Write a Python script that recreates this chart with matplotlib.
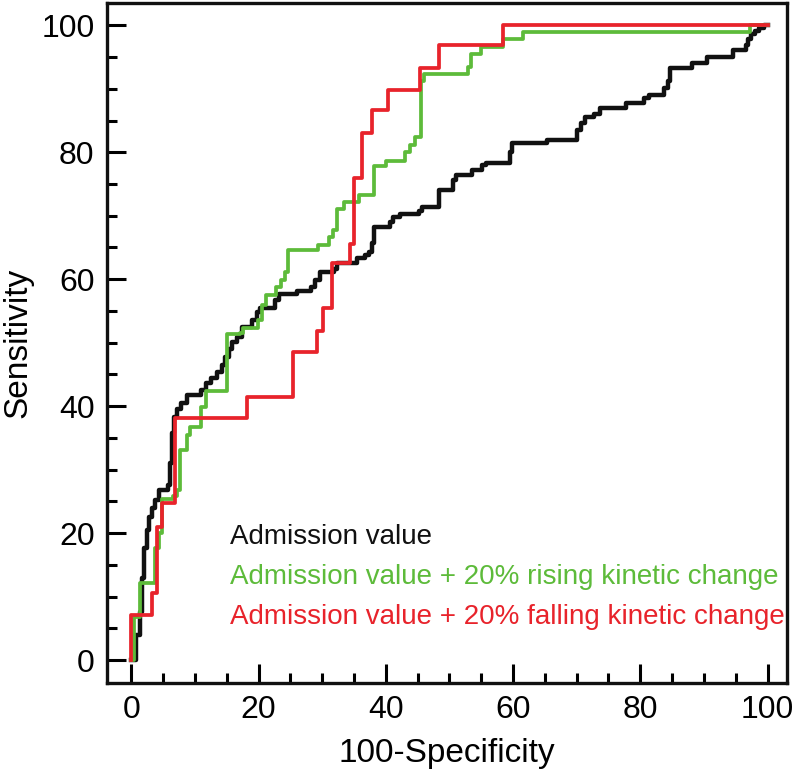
import matplotlib
matplotlib.use("Agg")
import matplotlib.pyplot as plt
from matplotlib.ticker import MultipleLocator

# ---- data (step points: x where the jump occurs, y after the jump) ----
black_x = [0, 0.8, 1.3, 1.7, 2.0, 2.5, 2.8, 3.3, 3.8, 4.4, 5.8, 6.1, 6.4, 6.7, 7.2, 7.8, 8.7,
           11.0, 11.8, 12.6, 13.5, 14.2, 14.8, 15.4, 15.9, 16.6, 17.4, 18.9, 19.7, 20.3, 22.6,
           23.2, 26.0, 28.2, 28.9, 29.7, 31.9, 32.4, 35.5, 36.8, 37.4, 37.8, 38.2, 40.6, 41.2,
           42.2, 45.3, 45.7, 48.3, 50.5, 51.0, 53.6, 55.2, 55.7, 59.5, 59.9, 65.4, 70.1, 70.7,
           71.3, 72.8, 73.6, 77.7, 80.6, 81.3, 83.7, 84.3, 84.6, 88.1, 90.5, 94.5, 96.6, 97.0,
           97.4, 98.0, 98.6, 99.4, 100]
black_y = [0, 4.0, 7.5, 13.0, 17.6, 20.5, 22.6, 23.9, 25.2, 26.8, 27.6, 31.0, 35.7, 38.3, 39.6,
           40.5, 41.7, 42.6, 43.6, 44.5, 45.4, 46.5, 47.8, 49.0, 50.1, 50.9, 52.5, 53.5, 54.8,
           55.4, 56.7, 57.7, 58.1, 58.8, 59.8, 61.1, 61.6, 62.5, 63.3, 63.8, 64.3, 65.7, 68.3,
           69.0, 69.8, 70.3, 70.8, 71.4, 74.0, 75.6, 76.4, 77.2, 78.0, 78.3, 80.0, 81.4, 81.9,
           83.5, 84.6, 85.6, 86.1, 86.9, 87.7, 88.5, 89.0, 90.1, 91.3, 93.2, 94.1, 95.0, 96.1,
           96.9, 97.8, 98.7, 99.1, 99.5, 100, 100]

green_x = [0, 0.5, 1.4, 3.8, 4.4, 4.8, 6.5, 7.2, 7.7, 8.8, 9.2, 10.9, 11.7, 15.0, 17.1, 17.5,
           19.9, 20.5, 21.1, 22.7, 23.5, 24.1, 24.6, 29.3, 31.1, 31.7, 32.3, 33.4, 35.8, 38.2,
           40.1, 43.0, 43.8, 44.6, 45.5, 46.0, 53.0, 53.4, 54.9, 58.4, 61.5, 97.3, 100]
green_y = [0, 6.8, 12.1, 17.6, 20.0, 25.3, 25.9, 26.8, 33.1, 35.4, 36.7, 39.9, 42.4, 51.3,
           51.6, 52.3, 53.5, 56.0, 57.5, 58.8, 59.8, 61.1, 64.6, 65.4, 66.7, 67.7, 71.1, 72.2,
           73.2, 77.8, 78.7, 80.1, 81.1, 82.4, 91.3, 92.4, 93.4, 95.5, 96.6, 97.9, 98.9, 100, 100]

red_x = [0, 0, 3.2, 4.1, 4.8, 6.9, 18.2, 25.5, 29.2, 30.2, 31.6, 34.4, 35.0, 36.2, 37.8, 40.4,
         45.4, 48.3, 58.5, 100]
red_y = [0, 7.1, 10.5, 21.0, 24.7, 38.1, 41.5, 48.6, 51.9, 55.4, 62.5, 65.6, 75.9, 83.0, 86.6,
         89.8, 93.2, 96.9, 100, 100]

series_labels = ["Admission value",
                 "Admission value + 20% rising kinetic change",
                 "Admission value + 20% falling kinetic change"]
colors = ["#111111", "#5dbb3a", "#e8232b"]
ticks = [0, 20, 40, 60, 80, 100]

font = "Liberation Sans"

fig = plt.figure(figsize=(7.93, 7.76), dpi=100)
ax = fig.add_axes([0.135, 0.12, 0.857, 0.876])

ax.plot(black_x, black_y, drawstyle="steps-post", color=colors[0], lw=3.2, zorder=3)
ax.plot(green_x, green_y, drawstyle="steps-post", color=colors[1], lw=2.7, zorder=4)
ax.plot(red_x, red_y, drawstyle="steps-post", color=colors[2], lw=2.7, zorder=5)

ax.set_xlim(-3.8, 103)
ax.set_ylim(-3.6, 103.5)
ax.set_xticks(ticks)
ax.set_yticks(ticks)
ax.xaxis.set_minor_locator(MultipleLocator(5))
ax.yaxis.set_minor_locator(MultipleLocator(5))
ax.tick_params(which="major", direction="in", length=14, width=2.2, pad=9,
               labelsize=23)
ax.tick_params(which="minor", direction="in", length=7, width=2.2)
for lab in ax.get_xticklabels() + ax.get_yticklabels():
    lab.set_family(font)
for s in ax.spines.values():
    s.set_linewidth(2.4)
    s.set_color("#111111")

ax.set_xlabel("100-Specificity", fontsize=24, family=font, labelpad=9)
ax.set_ylabel("Sensitivity", fontsize=24, family=font, labelpad=6)

ty = [19.4, 13.1, 6.8]
for lbl, c, yy in zip(series_labels, colors, ty):
    ax.text(15.5, yy, lbl, color=c, fontsize=20, family=font,
            va="center", ha="left")

fig.savefig("out.png", dpi=100)
